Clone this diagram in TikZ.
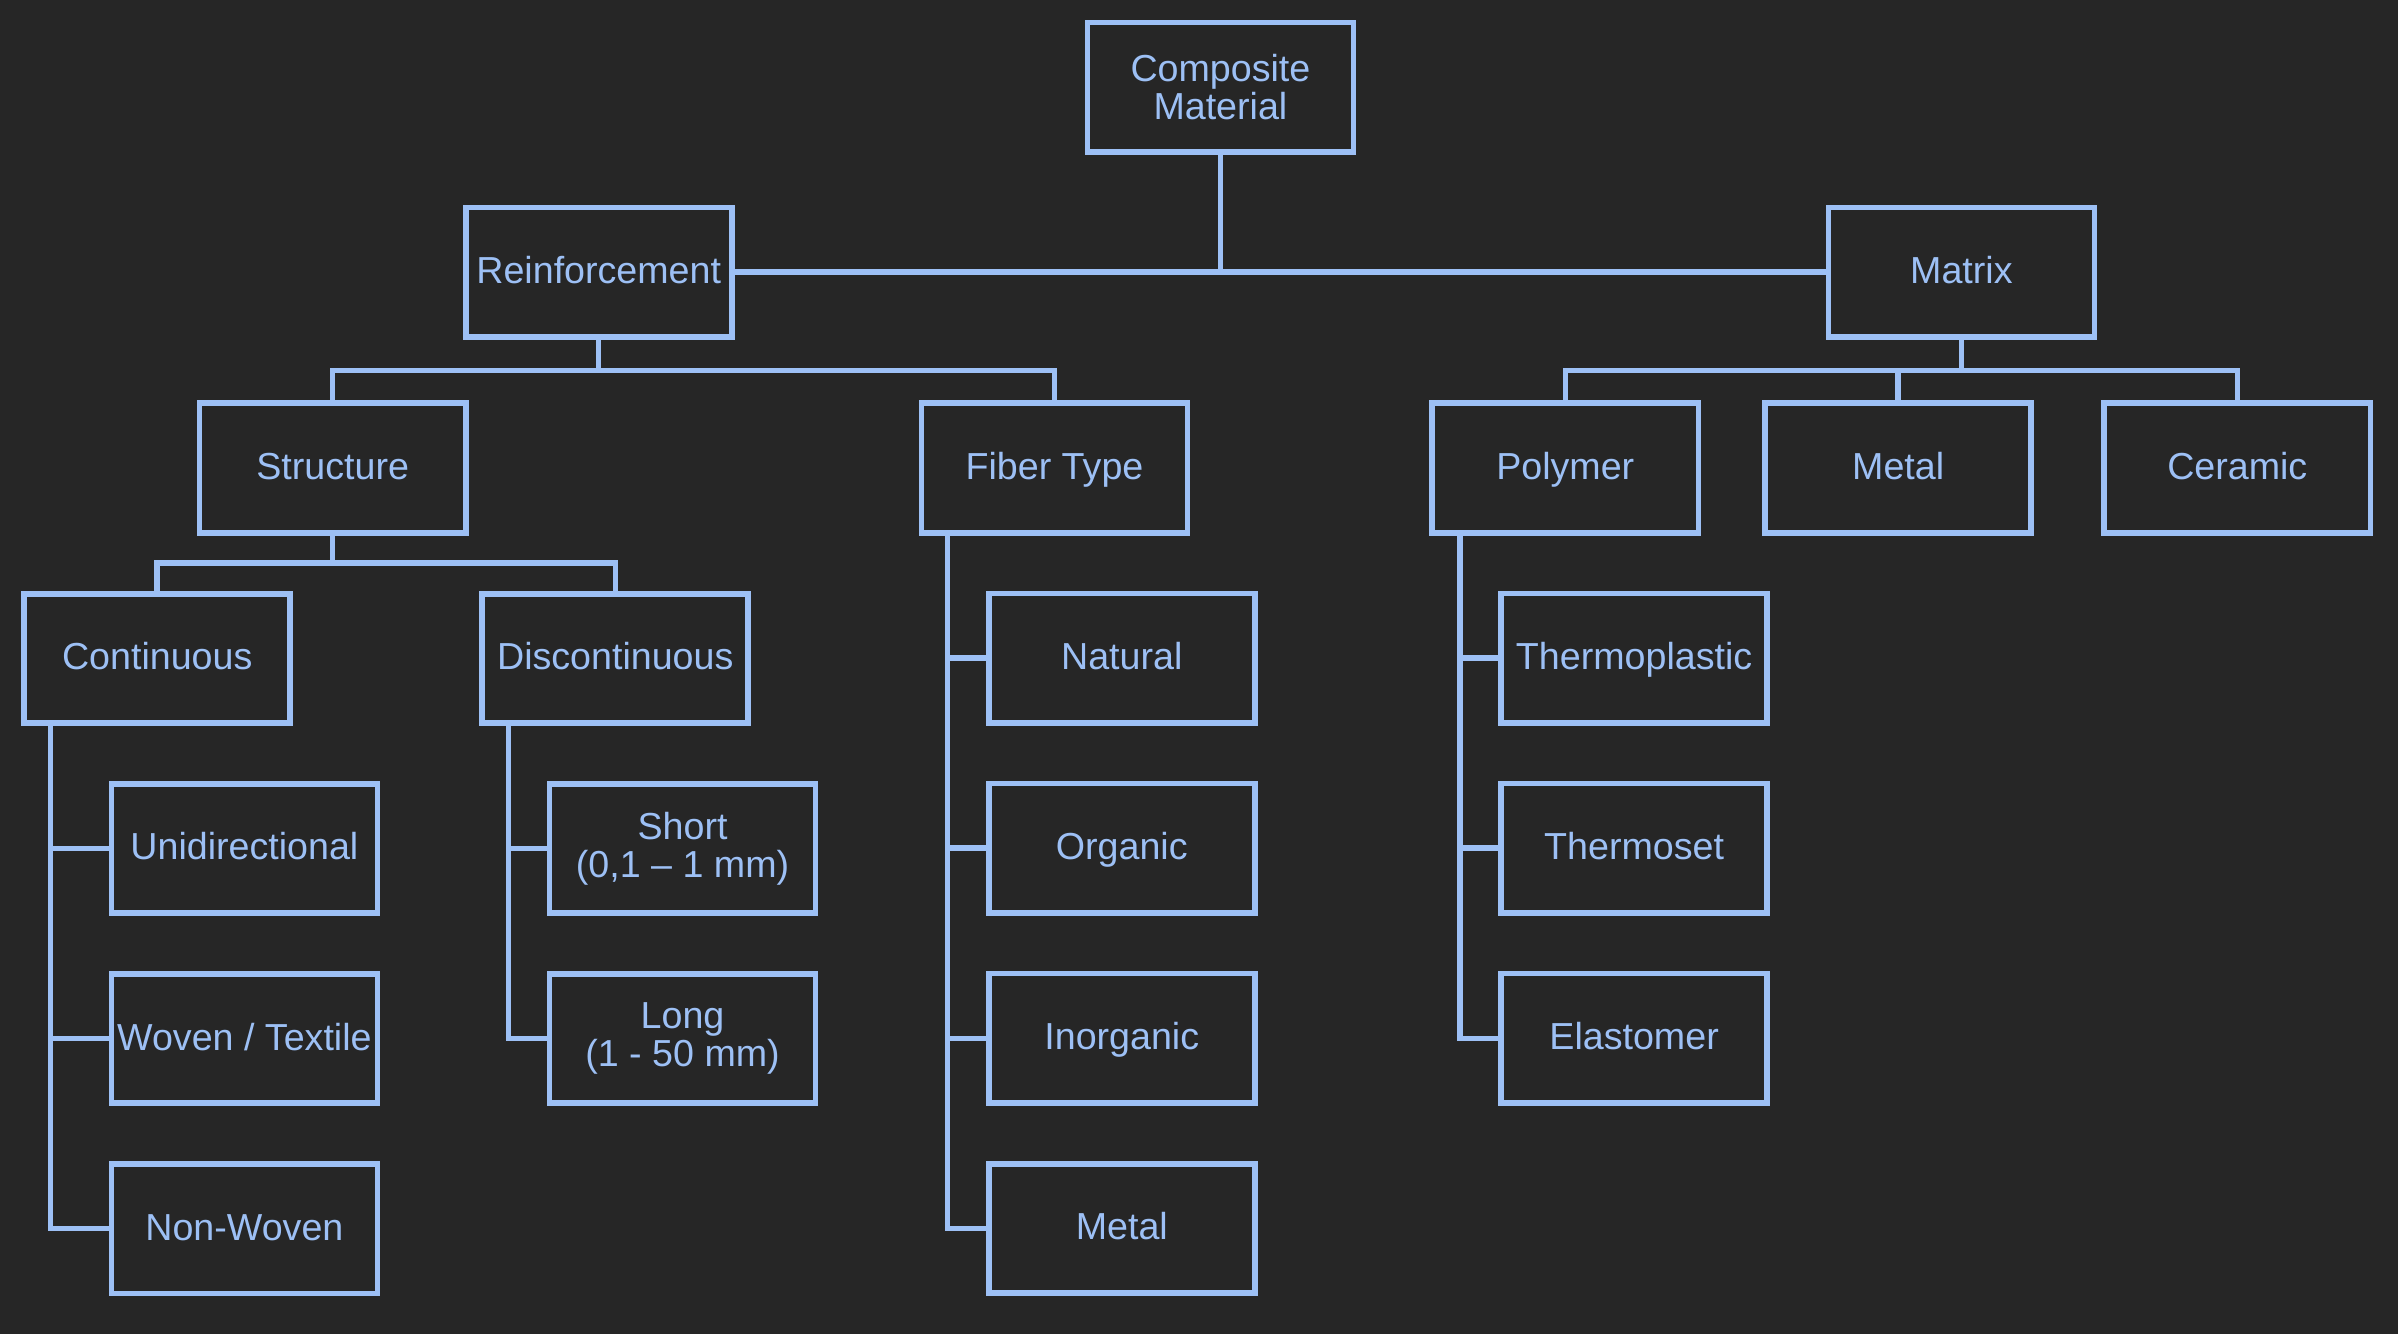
\documentclass[tikz,border=0pt]{standalone}
\usepackage{fontspec}
\setmainfont{Liberation Sans}
\usepackage{xcolor}
\usetikzlibrary{positioning,calc}

\definecolor{bgdark}{HTML}{262626}
\definecolor{lineblue}{HTML}{9DC0F5}

\begin{document}
\begin{tikzpicture}[
    node distance=18pt,
    boxbase/.style={rectangle, draw=lineblue, line width=1.85pt, text=lineblue, minimum width=87pt, minimum height=42.3pt, align=center, inner sep=1pt, font=\fontsize{12.3}{12.5}\selectfont},
    box/.style={boxbase, text height=0.8em, text depth=0.05em},
    twoline/.style={boxbase},
    link/.style={draw=lineblue, line width=1.8pt}
]

% Background
\fill[bgdark] (0,0) rectangle (784pt,-436pt);
\useasboundingbox (0,0) rectangle (784pt,-436pt);

% Nodes
\node[twoline] (composite) at (399pt,-28.5pt) {Composite\\Material};
\node[box] (reinforcement) at (195.75pt,-89pt) {Reinforcement};
\node[box] (matrix) at (641.25pt,-89pt) {Matrix};

\node[box] (structure) at (108.75pt,-153pt) {Structure};
\node[box] (fibertype) at (344.75pt,-153pt) {Fiber Type};
\node[box] (polymer) at (511.75pt,-153pt) {Polymer};
\node[box, right=20pt of polymer] (metalmatrix) {Metal};
\node[box, right=22pt of metalmatrix] (ceramic) {Ceramic};

\node[box] (continuous) at (51.4pt,-215.25pt) {Continuous};
\node[box] (discontinuous) at (201.15pt,-215.25pt) {Discontinuous};

\node[box, below=of continuous, xshift=28.5pt] (unidir) {Unidirectional};
\node[box, below=of unidir] (woven) {Woven / Textile};
\node[box, below=of woven] (nonwoven) {Non-Woven};

\node[twoline, below=of discontinuous, xshift=22pt] (short) {Short\\(0,1 -- 1 mm)};
\node[twoline, below=of short] (long) {Long\\(1 - 50 mm)};

\node[box, below=of fibertype, xshift=22pt] (natural) {Natural};
\node[box, below=of natural] (organic) {Organic};
\node[box, below=of organic] (inorganic) {Inorganic};
\node[box, below=of inorganic] (metalfiber) {Metal};

\node[box, below=of polymer, xshift=22.5pt] (thermoplastic) {Thermoplastic};
\node[box, below=of thermoplastic] (thermoset) {Thermoset};
\node[box, below=of thermoset] (elastomer) {Elastomer};

% Connectors
\draw[link] (reinforcement) -- (matrix);
\draw[link] (composite) -- (composite |- reinforcement);

\draw[link] (reinforcement.south) -- ++(0,-10pt) coordinate (rjoint);
\draw[link] (structure.north) |- (rjoint) -| (fibertype.north);

\draw[link] (matrix.south) -- ++(0,-10pt) coordinate (mjoint);
\draw[link] (polymer.north) |- (mjoint) -| (ceramic.north);
\draw[link] (metalmatrix.north) -- (metalmatrix.north |- mjoint);

\draw[link] (structure.south) -- ++(0,-9pt) coordinate (sjoint);
\draw[link] (continuous.north) |- (sjoint) -| (discontinuous.north);

\foreach \leaf in {unidir, woven, nonwoven}
    \draw[link] ([xshift=9.5pt]continuous.south west) |- (\leaf.west);
\foreach \leaf in {short, long}
    \draw[link] ([xshift=9.5pt]discontinuous.south west) |- (\leaf.west);
\foreach \leaf in {natural, organic, inorganic, metalfiber}
    \draw[link] ([xshift=9.5pt]fibertype.south west) |- (\leaf.west);
\foreach \leaf in {thermoplastic, thermoset, elastomer}
    \draw[link] ([xshift=10pt]polymer.south west) |- (\leaf.west);

\end{tikzpicture}
\end{document}
